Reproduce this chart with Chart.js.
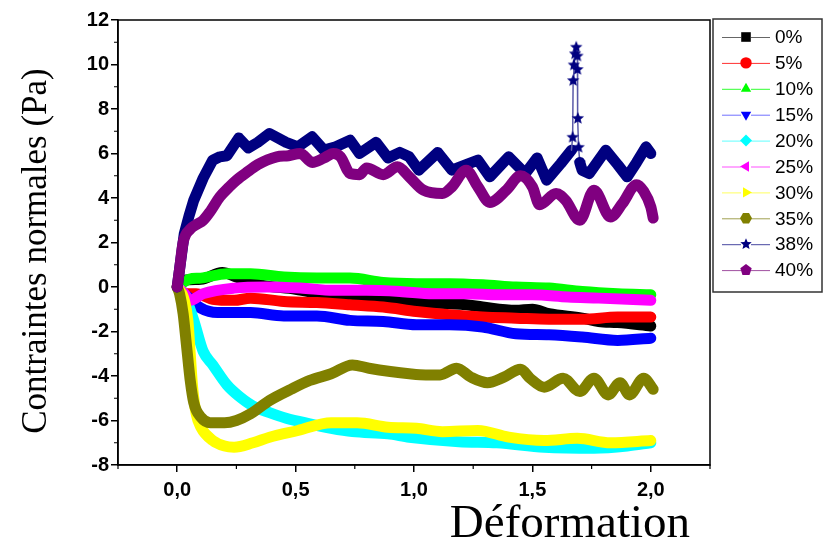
<!DOCTYPE html>
<html><head><meta charset="utf-8">
<script src="https://cdn.jsdelivr.net/npm/chart.js@4/dist/chart.umd.min.js"></script>
<style>html,body{margin:0;padding:0;background:#fff}#wrap{width:823px;height:544px;position:relative}</style>
</head><body><div id="wrap"><canvas id="c" width="823" height="544"></canvas></div>
<script>
// ---- Data ----
const seriesLabels = ['0%','5%','10%','15%','20%','25%','30%','35%','38%','40%'];
const seriesColors = ['#000000','#ff0000','#00ff00','#0000ff','#00ffff','#ff00ff','#ffff00','#808000','#000080','#800080'];
const legendLineColors = ['#666666','#ff3030','#30ff30','#7070ff','#60ffff','#ff50ff','#ffff60','#a0a050','#4848a0','#a050a0'];
const seriesMarkers = ['square','circle','triangle','invtriangle','diamond','lefttri','righttri','hexagon','star','pentagon'];

const x0  = [0,0.03,0.10,0.19,0.25,0.35,0.50,0.60,0.73,0.94,1.01,1.22,1.29,1.43,1.50,1.57,1.71,1.78,1.86,2.00];
const y0  = [0,0.30,0.35,0.65,0.45,0.10,-0.10,-0.30,-0.55,-0.65,-0.70,-0.80,-0.90,-1.05,-1.00,-1.20,-1.40,-1.55,-1.60,-1.75];

const x5  = [0,0.04,0.08,0.15,0.24,0.31,0.45,0.59,0.73,0.87,1.01,1.15,1.29,1.43,1.57,1.71,1.86,2.00];
const y5  = [0,-0.30,-0.30,-0.55,-0.60,-0.50,-0.65,-0.70,-0.80,-0.90,-1.10,-1.25,-1.35,-1.40,-1.45,-1.45,-1.35,-1.35];

const x10 = [0,0.025,0.05,0.10,0.21,0.31,0.45,0.59,0.73,0.87,1.01,1.15,1.29,1.43,1.57,1.71,1.86,2.00];
const y10 = [0,0.20,0.35,0.40,0.60,0.60,0.45,0.40,0.40,0.20,0.15,0.15,0.10,0.00,-0.05,-0.20,-0.30,-0.35];

const x15 = [0,0.04,0.10,0.17,0.31,0.45,0.59,0.73,0.87,1.01,1.15,1.29,1.43,1.57,1.71,1.86,2.00];
const y15 = [0,-0.40,-0.95,-1.15,-1.15,-1.30,-1.30,-1.50,-1.55,-1.70,-1.70,-1.80,-2.10,-2.15,-2.25,-2.40,-2.30];

const x20 = [0,0.02,0.04,0.07,0.11,0.15,0.21,0.26,0.32,0.39,0.46,0.56,0.65,0.74,0.89,0.98,1.19,1.35,1.55,1.76,1.90,2.00];
const y20 = [0,-0.20,-0.60,-1.50,-2.90,-3.50,-4.40,-4.90,-5.35,-5.65,-5.90,-6.15,-6.35,-6.50,-6.60,-6.75,-6.95,-7.00,-7.20,-7.25,-7.15,-7.00];

const x25 = [0,0.03,0.055,0.11,0.24,0.38,0.52,0.66,0.80,0.94,1.08,1.22,1.36,1.50,1.65,1.78,2.00];
const y25 = [0,-0.30,-0.60,-0.30,-0.05,0.00,-0.05,-0.15,-0.15,-0.20,-0.30,-0.30,-0.35,-0.35,-0.45,-0.50,-0.60];

const x30 = [0,0.02,0.03,0.045,0.055,0.065,0.08,0.10,0.15,0.20,0.24,0.32,0.39,0.51,0.65,0.76,0.89,1.01,1.12,1.27,1.40,1.55,1.69,1.83,2.00];
const y30 = [0,-0.30,-0.60,-1.50,-3.00,-4.50,-5.70,-6.30,-6.90,-7.15,-7.20,-7.00,-6.75,-6.45,-6.10,-6.10,-6.30,-6.35,-6.50,-6.45,-6.75,-6.90,-6.80,-7.00,-6.90];

const x35 = [0,0.01,0.025,0.04,0.055,0.07,0.10,0.14,0.20,0.25,0.31,0.39,0.48,0.56,0.65,0.74,0.81,0.90,0.98,1.05,1.11,1.18,1.24,1.31,1.38,1.45,1.49,1.55,1.63,1.70,1.76,1.82,1.87,1.91,1.97,2.01];
const y35 = [0,-0.30,-1.20,-2.70,-4.20,-5.20,-5.85,-6.10,-6.10,-6.00,-5.70,-5.10,-4.60,-4.20,-3.90,-3.50,-3.65,-3.80,-3.90,-3.95,-3.95,-3.65,-4.05,-4.30,-4.05,-3.70,-4.10,-4.50,-4.10,-4.70,-4.10,-4.85,-4.30,-4.85,-4.10,-4.60];

const x38 = [0,0.01,0.03,0.05,0.07,0.11,0.15,0.18,0.21,0.26,0.30,0.34,0.39,0.46,0.51,0.57,0.62,0.67,0.73,0.77,0.84,0.89,0.94,0.98,1.02,1.10,1.16,1.22,1.27,1.32,1.40,1.47,1.52,1.56,1.62,1.665,1.67,1.672,1.675,1.68,1.685,1.69,1.69,1.692,1.695,1.70,1.71,1.74,1.81,1.86,1.90,1.94,1.98,2.00];
const y38 = [0,0.80,2.40,3.20,3.90,4.90,5.70,5.85,5.90,6.70,6.25,6.50,6.90,6.50,6.30,6.75,6.15,6.30,6.60,6.00,6.50,5.80,6.05,5.85,5.25,6.05,5.25,5.50,5.70,4.95,5.85,5.10,5.80,4.80,5.55,6.15,6.75,9.30,10.00,10.50,10.80,10.40,9.80,7.60,6.30,5.60,5.25,5.10,6.15,5.50,4.95,5.60,6.30,6.00];

const x40 = [0,0.01,0.025,0.055,0.08,0.11,0.14,0.18,0.22,0.25,0.30,0.34,0.42,0.47,0.52,0.57,0.62,0.66,0.69,0.73,0.77,0.80,0.87,0.93,0.98,1.04,1.12,1.16,1.22,1.27,1.32,1.39,1.45,1.50,1.53,1.60,1.64,1.70,1.76,1.83,1.88,1.94,1.97,2.00,2.01];
const y40 = [0,0.80,2.00,2.60,2.80,3.00,3.40,4.05,4.50,4.80,5.20,5.50,5.85,5.90,6.00,5.60,5.80,6.00,5.85,5.10,5.05,5.35,5.05,5.40,4.95,4.35,4.20,4.50,5.25,4.50,3.80,4.35,5.00,4.50,3.70,4.20,3.90,3.00,4.35,3.15,3.75,4.60,4.30,3.60,3.10];

const xTickValues = [0,0.5,1.0,1.5,2.0];
const xTickLabels = ['0,0','0,5','1,0','1,5','2,0'];
const yTickValues = [-8,-6,-4,-2,0,2,4,6,8,10,12];
const yTickLabels = ['-8','-6','-4','-2','0','2','4','6','8','10','12'];
const xMinorTicks = [-0.25,0.25,0.75,1.25,1.75,2.25];
const yMinorTicks = [-7,-5,-3,-1,1,3,5,7,9,11];
const xTitle = 'Déformation';
const yTitle = 'Contraintes normales (Pa)';

// ---- marker drawing ----
function drawMarker(ctx, kind, x, y, r, color){
  ctx.save();
  ctx.fillStyle = color; ctx.strokeStyle = color;
  ctx.beginPath();
  const poly = (n, rot) => { for(let k=0;k<n;k++){ const a = rot + k*2*Math.PI/n; const px = x + r*Math.cos(a), py = y + r*Math.sin(a); k?ctx.lineTo(px,py):ctx.moveTo(px,py);} ctx.closePath(); };
  switch(kind){
    case 'square': ctx.rect(x-r*0.8,y-r*0.8,r*1.6,r*1.6); break;
    case 'circle': ctx.arc(x,y,r*0.95,0,Math.PI*2); break;
    case 'triangle': poly(3,-Math.PI/2); break;
    case 'invtriangle': poly(3,Math.PI/2); break;
    case 'diamond': poly(4,-Math.PI/2); break;
    case 'lefttri': poly(3,Math.PI); break;
    case 'righttri': poly(3,0); break;
    case 'hexagon': poly(6,0); break;
    case 'pentagon': poly(5,-Math.PI/2); break;
    case 'star': { for(let k=0;k<10;k++){ const rr = k%2? r*0.45 : r; const a = -Math.PI/2 + k*Math.PI/5; const px=x+rr*Math.cos(a), py=y+rr*Math.sin(a); k?ctx.lineTo(px,py):ctx.moveTo(px,py);} ctx.closePath(); break; }
  }
  ctx.fill();
  ctx.restore();
}
const starImg = document.createElement('canvas');
starImg.width = 14; starImg.height = 14;
drawMarker(starImg.getContext('2d'), 'star', 7, 7.5, 6.5, '#000080');

// ---- build datasets ----
const xs = [x0,x5,x10,x15,x20,x25,x30,x35,x38,x40];
const ys = [y0,y5,y10,y15,y20,y25,y30,y35,y38,y40];
const spikeLo = 1.668, spikeHi = 1.70;
const inSpike = (a,b) => a >= spikeLo - 0.004 && b <= spikeHi;
const datasets = seriesLabels.map((lab,i)=>{
  const isSpiky = lab === '38%';
  return {
    label: lab,
    data: xs[i].map((x,k)=>({x:x,y:ys[i][k]})),
    borderColor: seriesColors[i],
    backgroundColor: seriesColors[i],
    borderWidth: 11,
    borderJoinStyle: 'round',
    borderCapStyle: 'round',
    tension: 0,
    cubicInterpolationMode: isSpiky ? 'default' : 'monotone',
    order: 10 - i,
    pointStyle: isSpiky ? starImg : 'circle',
    pointRadius: isSpiky ? (c => { const v = c.raw; return (v && v.x >= spikeLo && v.x <= spikeHi) ? 6 : 0; }) : 0,
    pointBorderWidth: 0,
    segment: isSpiky ? {
      borderWidth: c => inSpike(c.p0.parsed.x, c.p1.parsed.x) ? 1.5 : 11,
      borderColor: c => inSpike(c.p0.parsed.x, c.p1.parsed.x) ? '#5a5aa8' : seriesColors[i]
    } : undefined
  };
});

const decor = {
  id: 'decor',
  afterDraw(chart){
    const ctx = chart.ctx, a = chart.chartArea;
    const sx = chart.scales.x, sy = chart.scales.y;
    ctx.save();
    // frame
    ctx.strokeStyle = '#000'; ctx.lineWidth = 1.5;
    ctx.strokeRect(a.left, a.top, a.right - a.left, a.bottom - a.top);
    // minor ticks
    ctx.lineWidth = 1.2;
    ctx.beginPath();
    xMinorTicks.forEach(v=>{ const px = sx.getPixelForValue(v); ctx.moveTo(px, a.bottom); ctx.lineTo(px, a.bottom+4); });
    yMinorTicks.forEach(v=>{ const py = sy.getPixelForValue(v); ctx.moveTo(a.left, py); ctx.lineTo(a.left-4, py); });
    ctx.stroke();
    // titles
    ctx.fillStyle = '#000';
    ctx.font = '47px "Liberation Serif", "Times New Roman", serif';
    ctx.textAlign = 'right'; ctx.textBaseline = 'alphabetic';
    ctx.fillText(xTitle, 690, 537);
    ctx.save();
    ctx.translate(46, 251);
    ctx.rotate(-Math.PI/2);
    ctx.font = '35px "Liberation Serif", "Times New Roman", serif';
    ctx.textAlign = 'center';
    ctx.fillText(yTitle, 0, 0);
    ctx.restore();
    // legend
    const lx = 713, ly = 19, lw = 109, lh = 273;
    ctx.fillStyle = '#fff';
    ctx.fillRect(lx, ly, lw, lh);
    ctx.strokeStyle = '#333'; ctx.lineWidth = 1.5;
    ctx.strokeRect(lx, ly, lw, lh);
    ctx.font = '19px "Liberation Sans", Arial, sans-serif';
    ctx.textAlign = 'left'; ctx.textBaseline = 'middle';
    seriesLabels.forEach((lab,i)=>{
      const y = 37 + i*25.9;
      ctx.strokeStyle = legendLineColors[i]; ctx.lineWidth = 1;
      ctx.beginPath(); ctx.moveTo(722, y+0.5); ctx.lineTo(741, y+0.5); ctx.moveTo(751, y+0.5); ctx.lineTo(770, y+0.5); ctx.stroke();
      drawMarker(ctx, seriesMarkers[i], 746, y, 6, seriesColors[i]);
      ctx.fillStyle = '#000';
      ctx.fillText(lab, 775, y + 1);
    });
    ctx.restore();
  }
};

const tickFont = {family: '"Liberation Sans", Arial, sans-serif', size: 20, weight: 'bold'};
new Chart(document.getElementById('c'), {
  type: 'line',
  data: { datasets },
  options: {
    responsive: false,
    animation: false,
    layout: { padding: { top: 20, right: 113, left: 0, bottom: 0 } },
    plugins: { legend: {display:false}, tooltip: {enabled:false} },
    scales: {
      x: {
        type: 'linear', min: -0.25, max: 2.25,
        afterBuildTicks: s => { s.ticks = xTickValues.map(v=>({value:v})); },
        afterFit: s => { s.height = 79; },
        ticks: { font: tickFont, color: '#000', padding: 6, maxRotation: 0, autoSkip: false,
                 callback: v => { const k = xTickValues.indexOf(v); return k >= 0 ? xTickLabels[k] : ''; } },
        grid: { drawOnChartArea: false, drawTicks: true, tickLength: 7, color: '#000', lineWidth: 1.5 },
        border: { display: true, color: '#000', width: 1.5 }
      },
      y: {
        type: 'linear', min: -8, max: 12,
        afterBuildTicks: s => { s.ticks = yTickValues.map(v=>({value:v})); },
        afterFit: s => { s.width = 118; },
        ticks: { font: tickFont, color: '#000', padding: 2, autoSkip: false,
                 callback: v => { const k = yTickValues.indexOf(v); return k >= 0 ? yTickLabels[k] : ''; } },
        grid: { drawOnChartArea: false, drawTicks: true, tickLength: 7, color: '#000', lineWidth: 1.5 },
        border: { display: true, color: '#000', width: 1.5 }
      }
    }
  },
  plugins: [decor]
});
</script>
</body></html>
